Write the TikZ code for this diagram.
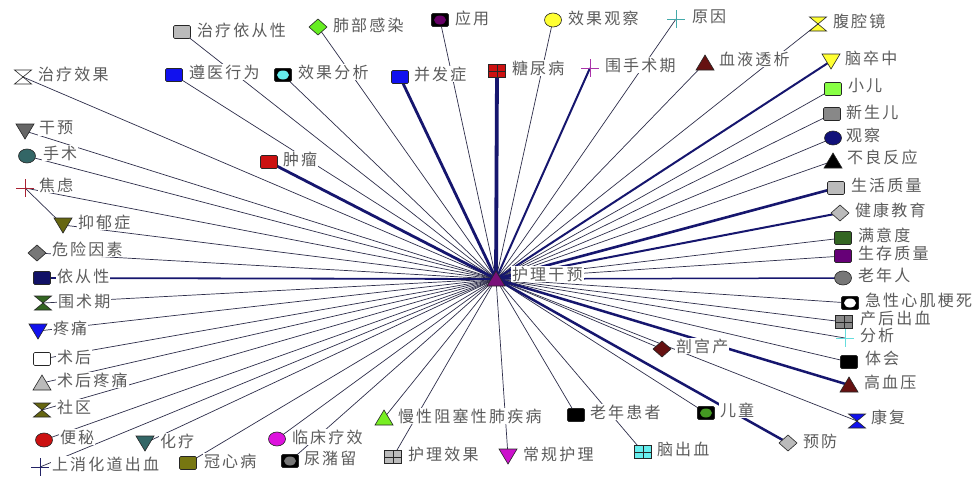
\documentclass[tikz,border=0pt]{standalone}
\usepackage{fontspec}
\usetikzlibrary{backgrounds}
\newfontfamily\cjk[LetterSpace=14]{Noto Sans CJK SC}
\definecolor{labgray}{HTML}{5C5C5C}
\definecolor{thinc}{HTML}{2E2E4A}
\definecolor{thickc}{HTML}{16166E}
\definecolor{lgray}{HTML}{BBBBBB}
\definecolor{mgray}{HTML}{888888}
\definecolor{dgray}{HTML}{777777}
\definecolor{gsix}{HTML}{666666}
\definecolor{greenA}{HTML}{66EE22}
\definecolor{greenB}{HTML}{88FF44}
\definecolor{greenC}{HTML}{336622}
\definecolor{greenD}{HTML}{77EE22}
\definecolor{greenE}{HTML}{449922}
\definecolor{purpA}{HTML}{660066}
\definecolor{purpB}{HTML}{660077}
\definecolor{purpC}{HTML}{7A107A}
\definecolor{yel}{HTML}{FFFF33}
\definecolor{tealA}{HTML}{44AAAA}
\definecolor{tealB}{HTML}{336666}
\definecolor{blu}{HTML}{1111EE}
\definecolor{navyA}{HTML}{11117A}
\definecolor{navyB}{HTML}{111166}
\definecolor{navyC}{HTML}{222266}
\definecolor{redA}{HTML}{CC1111}
\definecolor{dred}{HTML}{661111}
\definecolor{magA}{HTML}{AA33AA}
\definecolor{magB}{HTML}{CC11CC}
\definecolor{magC}{HTML}{DD11DD}
\definecolor{cyanA}{HTML}{66EEEE}
\definecolor{cyanB}{HTML}{66DDDD}
\definecolor{oliveA}{HTML}{777711}
\definecolor{oliveB}{HTML}{666611}
\definecolor{crossred}{HTML}{AA2233}
\newcommand\shpsq[1]{\draw[mkl,fill=#1,rounded corners=1.2pt] (-8.5,-6.5) rectangle (8.5,6.5);}
\newcommand\shpcirc[1]{\draw[mkl,fill=#1] (0,0) ellipse [x radius=8.5pt, y radius=7pt];}
\newcommand\shpsqc[1]{\draw[mkl,fill=black,rounded corners=1.2pt] (-8.5,-6.5) rectangle (8.5,6.5); \fill[#1] (0,0) ellipse [x radius=6pt, y radius=4.5pt];}
\newcommand\shpdia[1]{\draw[mkl,fill=#1] (-9,0) -- (0,-8) -- (9,0) -- (0,8) -- cycle;}
\newcommand\shptri[1]{\draw[mkl,fill=#1] (-9,7) -- (9,7) -- (0,-8) -- cycle;}
\newcommand\shpitri[1]{\draw[mkl,fill=#1] (-9,-7) -- (9,-7) -- (0,8) -- cycle;}
\newcommand\shphg[1]{\draw[mkl,fill=#1] (-8.5,-7) -- (8.5,-7) -- (-8.5,7) -- (8.5,7) -- cycle;}
\newcommand\shpcross[1]{\draw[#1,line width=1pt] (-9,0) -- (9,0) (0,-9) -- (0,9);}
\newcommand\shpgrid[1]{\draw[mkl,fill=#1] (-8.5,-6.5) rectangle (8.5,6.5); \draw[mkl] (-8.5,0) -- (8.5,0) (0,-6.5) -- (0,6.5);}
\newcommand\MK[3]{\begin{scope}[shift={(#1.center)}]\csname shp#2\endcsname{#3}\end{scope}}
\begin{document}
\begin{tikzpicture}[x=1pt,y=-1pt,
  mk/.style={rectangle,minimum width=17pt,minimum height=13pt,inner sep=0pt,draw=none},
  mkl/.style={draw=black!85,line width=0.6pt},
  lb/.style={anchor=west,fill=white,inner sep=0.8pt,text=labgray,font=\cjk\fontsize{16}{17}\selectfont},
  thinE/.style={draw=thinc,line width=0.7pt},
  thickE/.style={draw=thickc,line width=#1}]
\useasboundingbox (0,0) rectangle (976,477);
% center
\node[mk] (c) at (496,279) {};
% markers
\node[mk] (k1) at (182,32) {};
\node[mk] (k2) at (318,27) {};
\node[mk] (k3) at (440,20) {};
\node[mk] (k4) at (553,20) {};
\node[mk] (k5) at (676,19) {};
\node[mk] (k6) at (818,24) {};
\node[mk] (k7) at (23,77) {};
\node[mk] (k8) at (174,75) {};
\node[mk] (k9) at (283,75) {};
\node[mk] (k10) at (400,77) {};
\node[mk] (k11) at (497,71) {};
\node[mk] (k12) at (590,68) {};
\node[mk] (k13) at (705,63) {};
\node[mk] (k14) at (831,61) {};
\node[mk] (k15) at (833,89) {};
\node[mk] (k16) at (832,114) {};
\node[mk] (k17) at (833,138) {};
\node[mk] (k18) at (833,161) {};
\node[mk] (k19) at (836,188) {};
\node[mk] (k20) at (840,213) {};
\node[mk] (k21) at (843,238) {};
\node[mk] (k22) at (843,256) {};
\node[mk] (k23) at (843,278) {};
\node[mk] (k24) at (850,303) {};
\node[mk] (k25) at (844,322) {};
\node[mk] (k26) at (845,338) {};
\node[mk] (k27) at (849,362) {};
\node[mk] (k28) at (849,385) {};
\node[mk] (k29) at (857,421) {};
\node[mk] (k30) at (788,443) {};
\node[mk] (k31) at (662,349) {};
\node[mk] (k32) at (706,413) {};
\node[mk] (k33) at (643,452) {};
\node[mk] (k34) at (576,415) {};
\node[mk] (k35) at (508,456) {};
\node[mk] (k36) at (384,418) {};
\node[mk] (k37) at (393,457) {};
\node[mk] (k38) at (277,439) {};
\node[mk] (k39) at (290,461) {};
\node[mk] (k40) at (188,463) {};
\node[mk] (k41) at (145,443) {};
\node[mk] (k42) at (40,467) {};
\node[mk] (k43) at (44,440) {};
\node[mk] (k44) at (42,410) {};
\node[mk] (k45) at (42,383) {};
\node[mk] (k46) at (42,359) {};
\node[mk] (k47) at (38,331) {};
\node[mk] (k48) at (43,303) {};
\node[mk] (k49) at (42,278) {};
\node[mk] (k50) at (37,253) {};
\node[mk] (k51) at (63,225) {};
\node[mk] (k52) at (25,188) {};
\node[mk] (k53) at (27,156) {};
\node[mk] (k54) at (25,131) {};
\node[mk] (k55) at (269,162) {};
% edges
\begin{pgfonlayer}{background}
\fill[white] (0,0) rectangle (976,477);
\foreach \n in {k1,k2,k3,k4,k5,k6,k7,k8,k9,k13,k15,k16,k17,k18,k21,k22,k24,k25,k26,k27,k29,k31,k32,k33,k34,k35,k36,k37,k38,k39,k40,k41,k42,k43,k44,k45,k46,k47,k48,k50,k51,k52,k53,k54}
  \draw[thinE] (c.center) -- (\n.center);
\draw[thinE] (k52.center) -- (k51.center);
\draw[thickE=3.8pt] (c.center) -- (k11.center);
\draw[thickE=2.8pt] (c.center) -- (k55.center);
\draw[thickE=2.8pt] (c.center) -- (k10.center);
\draw[thickE=2.6pt] (c.center) -- (k19.center);
\draw[thickE=2.5pt] (c.center) -- (k28.center);
\draw[thickE=2.5pt] (c.center) -- (k30.center);
\draw[thickE=2pt] (c.center) -- (k12.center);
\draw[thickE=2pt] (c.center) -- (k14.center);
\draw[thickE=2pt] (c.center) -- (k20.center);
\draw[thickE=1.8pt] (c.center) -- (k49.center);
\draw[thickE=1.5pt] (c.center) -- (k23.center);
\end{pgfonlayer}
% shapes
\MK{k1}{sq}{lgray}
\MK{k2}{dia}{greenA}
\MK{k3}{sqc}{purpA}
\MK{k4}{circ}{yel}
\MK{k5}{cross}{tealA}
\MK{k6}{hg}{yel}
\MK{k7}{hg}{white}
\MK{k8}{sq}{blu}
\MK{k9}{sqc}{cyanA}
\MK{k10}{sq}{blu}
\MK{k11}{grid}{redA}
\MK{k12}{cross}{magA}
\MK{k13}{tri}{dred}
\MK{k14}{itri}{yel}
\MK{k15}{sq}{greenB}
\MK{k16}{sq}{mgray}
\MK{k17}{circ}{navyA}
\MK{k18}{tri}{black}
\MK{k19}{sq}{lgray}
\MK{k20}{dia}{lgray}
\MK{k21}{sq}{greenC}
\MK{k22}{sq}{purpB}
\MK{k23}{circ}{dgray}
\MK{k24}{sqc}{white}
\MK{k25}{grid}{mgray}
\MK{k26}{cross}{cyanB}
\MK{k27}{sq}{black}
\MK{k28}{tri}{dred}
\MK{k29}{hg}{blu}
\MK{k30}{dia}{lgray}
\MK{k31}{dia}{dred}
\MK{k32}{sqc}{greenE}
\MK{k33}{grid}{cyanA}
\MK{k34}{sq}{black}
\MK{k35}{itri}{magB}
\MK{k36}{tri}{greenD}
\MK{k37}{grid}{lgray}
\MK{k38}{circ}{magC}
\MK{k39}{sqc}{dgray}
\MK{k40}{sq}{oliveA}
\MK{k41}{itri}{tealB}
\MK{k42}{cross}{navyC}
\MK{k43}{circ}{redA}
\MK{k44}{hg}{oliveB}
\MK{k45}{tri}{lgray}
\MK{k46}{sq}{white}
\MK{k47}{itri}{blu}
\MK{k48}{hg}{greenC}
\MK{k49}{sq}{navyB}
\MK{k50}{dia}{dgray}
\MK{k51}{itri}{oliveB}
\MK{k52}{cross}{crossred}
\MK{k53}{circ}{tealB}
\MK{k54}{itri}{gsix}
\MK{k55}{sq}{redA}
\MK{c}{tri}{purpC}
% labels
\node[lb] (tc) at (511,274) {护理干预};
\node[lb] (t1) at (196,30) {治疗依从性};
\node[lb] (t2) at (332,25) {肺部感染};
\node[lb] (t3) at (454,18) {应用};
\node[lb] (t4) at (567,18) {效果观察};
\node[lb] (t5) at (691,17) {原因};
\node[lb] (t6) at (832,21) {腹腔镜};
\node[lb] (t7) at (37,74) {治疗效果};
\node[lb] (t8) at (188,72) {遵医行为};
\node[lb] (t9) at (297,72) {效果分析};
\node[lb] (t10) at (413,74) {并发症};
\node[lb] (t11) at (511,68) {糖尿病};
\node[lb] (t12) at (604,65) {围手术期};
\node[lb] (t13) at (718,59) {血液透析};
\node[lb] (t14) at (844,58) {脑卒中};
\node[lb] (t15) at (847,86) {小儿};
\node[lb] (t16) at (845,112) {新生儿};
\node[lb] (t17) at (845,135) {观察};
\node[lb] (t18) at (846,157) {不良反应};
\node[lb] (t19) at (850,185) {生活质量};
\node[lb] (t20) at (854,210) {健康教育};
\node[lb] (t21) at (857,235) {满意度};
\node[lb] (t22) at (857,253) {生存质量};
\node[lb] (t23) at (857,275) {老年人};
\node[lb] (t24) at (864,300) {急性心肌梗死};
\node[lb] (t25) at (859,318) {产后出血};
\node[lb] (t26) at (859,335) {分析};
\node[lb] (t27) at (864,358) {体会};
\node[lb] (t28) at (863,382) {高血压};
\node[lb] (t29) at (870,417) {康复};
\node[lb] (t30) at (802,441) {预防};
\node[lb] (t31) at (675,346) {剖宫产};
\node[lb] (t32) at (719,410) {儿童};
\node[lb] (t33) at (656,449) {脑出血};
\node[lb] (t34) at (589,412) {老年患者};
\node[lb] (t35) at (522,454) {常规护理};
\node[lb] (t36) at (397,416) {慢性阻塞性肺疾病};
\node[lb] (t37) at (407,454) {护理效果};
\node[lb] (t38) at (291,437) {临床疗效};
\node[lb] (t39) at (303,458) {尿潴留};
\node[lb] (t40) at (203,461) {冠心病};
\node[lb] (t41) at (159,441) {化疗};
\node[lb] (t42) at (51,464) {上消化道出血};
\node[lb] (t43) at (59,437) {便秘};
\node[lb] (t44) at (56,407) {社区};
\node[lb] (t45) at (56,380) {术后疼痛};
\node[lb] (t46) at (56,357) {术后};
\node[lb] (t47) at (52,328) {疼痛};
\node[lb] (t48) at (57,301) {围术期};
\node[lb] (t49) at (56,276) {依从性};
\node[lb] (t50) at (51,249) {危险因素};
\node[lb] (t51) at (77,222) {抑郁症};
\node[lb] (t52) at (38,185) {焦虑};
\node[lb] (t53) at (42,153) {手术};
\node[lb] (t54) at (38,128) {干预};
\node[lb] (t55) at (282,159) {肿瘤};
\end{tikzpicture}
\end{document}
